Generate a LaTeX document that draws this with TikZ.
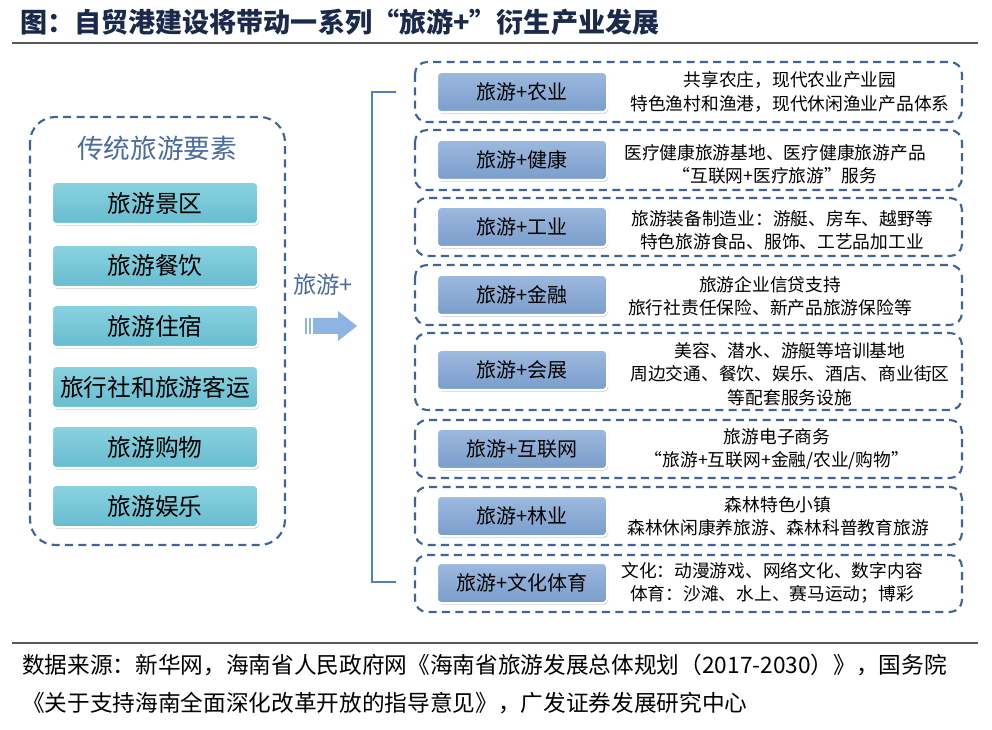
\documentclass[tikz,border=0pt]{standalone}
\usepackage{fontspec}
\newfontfamily\cjk{Noto Sans CJK SC}
\usetikzlibrary{shadows}
\definecolor{dashc}{HTML}{3F6497}
\definecolor{titlec}{HTML}{1B2A4A}
\definecolor{headc}{HTML}{4A6C9B}
\definecolor{tealtop}{HTML}{8AD2E0}
\definecolor{tealbot}{HTML}{66BCCF}
\definecolor{bluetop}{HTML}{9DB9DE}
\definecolor{bluebot}{HTML}{7A9DCB}
\definecolor{brackc}{HTML}{4F81BD}
\definecolor{arrowc}{HTML}{8DB4E2}
\tikzset{
  dbox/.style={draw=dashc, line width=1.6pt, dash pattern=on 6pt off 4pt, rounded corners=9pt},
  tealbox/.style={draw=white, line width=1.5pt, rounded corners=3pt, top color=tealtop, bottom color=tealbot,
    minimum width=154.5pt, minimum height=31.5pt, drop shadow={shadow xshift=0.8pt, shadow yshift=-1.2pt, opacity=0.4},
    font=\cjk\fontsize{17.8}{20}\selectfont, text=black},
  bluebox/.style={draw=white, line width=1.5pt, rounded corners=3pt, top color=bluetop, bottom color=bluebot,
    minimum width=127.5pt, minimum height=30pt, drop shadow={shadow xshift=0.8pt, shadow yshift=-1.2pt, opacity=0.4},
    font=\cjk\fontsize{15}{18}\selectfont, text=black},
  desc/.style={align=center, font=\cjk\fontsize{13.3}{17.5}\selectfont, text=black},
}
\begin{document}
\begin{tikzpicture}[x=0.75pt,y=-0.75pt]
\useasboundingbox (0,0) rectangle (992,730);
% title
\node[anchor=west, font=\cjk\bfseries\fontsize{20.3}{22}\selectfont, text=titlec, inner sep=0] (title) at (20,22) {图：自贸港建设将带动一系列“旅游+”衍生产业发展};
\draw[line width=1.6pt, draw=black!65] (12,43) -- (978,43);
% left group
\draw[dbox, rounded corners=19pt] (30,117) rectangle (285,545);
\node[font=\cjk\fontsize{20}{24}\selectfont, text=headc] (head) at (157,148) {传统旅游要素};
\node[tealbox] (l1) at (155,203) {旅游景区};
\node[tealbox] (l2) at (155,266) {旅游餐饮};
\node[tealbox] (l3) at (155,326) {旅游住宿};
\node[tealbox] (l4) at (155,387) {旅行社和旅游客运};
\node[tealbox] (l5) at (155,447) {旅游购物};
\node[tealbox] (l6) at (155,506) {旅游娱乐};
% middle
\node[font=\cjk\fontsize{17.5}{20}\selectfont, text=headc] (plus) at (323,285) {旅游+};
\fill[arrowc] (305,318) rectangle (307,334);
\fill[arrowc] (309,318) rectangle (311,334);
\fill[arrowc] (313,318) -- (338,318) -- (338,311) -- (357,326) -- (338,341) -- (338,334) -- (313,334) -- cycle;
\draw[brackc, line width=2pt] (396,92) -- (372,92) -- (372,582) -- (396,582);
% right rows
\draw[dbox] (415,62) rectangle (962,122);
\draw[dbox] (415,130) rectangle (962,190);
\draw[dbox] (415,198) rectangle (962,256);
\draw[dbox] (415,265) rectangle (962,325);
\draw[dbox] (415,333) rectangle (962,410);
\draw[dbox] (415,420) rectangle (962,478);
\draw[dbox] (415,487) rectangle (962,545);
\draw[dbox] (415,555) rectangle (962,612);
\node[bluebox] (r1) at (522,92) {旅游+农业};
\node[bluebox] (r2) at (522,160) {旅游+健康};
\node[bluebox] (r3) at (522,227) {旅游+工业};
\node[bluebox] (r4) at (522,295) {旅游+金融};
\node[bluebox] (r5) at (522,370) {旅游+会展};
\node[bluebox] (r6) at (522,449) {旅游+互联网};
\node[bluebox] (r7) at (522,516) {旅游+林业};
\node[bluebox] (r8) at (522,583) {旅游+文化体育};
\node[desc] (d1) at (790,92) {共享农庄，现代农业产业园\\特色渔村和渔港，现代休闲渔业产品体系};
\node[desc] (d2) at (775,164) {医疗健康旅游基地、医疗健康旅游产品\\“互联网+医疗旅游”服务};
\node[desc] (d3) at (782,230) {旅游装备制造业：游艇、房车、越野等\\特色旅游食品、服饰、工艺品加工业};
\node[desc] (d4) at (770,296) {旅游企业信贷支持\\旅行社责任保险、新产品旅游保险等};
\node[desc] (d5) at (790,374) {美容、潜水、游艇等培训基地\\周边交通、餐饮、娱乐、酒店、商业街区\\等配套服务设施};
\node[desc] (d6) at (777,449) {旅游电子商务\\“旅游+互联网+金融/农业/购物”};
\node[desc] (d7) at (778,516) {森林特色小镇\\森林休闲康养旅游、森林科普教育旅游};
\node[desc] (d8) at (772,583) {文化：动漫游戏、网络文化、数字内容\\体育：沙滩、水上、赛马运动；博彩};
% footer
\draw[line width=1.6pt, draw=black!65] (12,643) -- (978,643);
\node[anchor=west, font=\cjk\fontsize{17}{20}\selectfont, inner sep=0] (src1) at (22,665) {数据来源：新华网，海南省人民政府网《海南省旅游发展总体规划（2017-2030）》，国务院};
\node[anchor=west, font=\cjk\fontsize{17}{20}\selectfont, inner sep=0] (src2) at (22,703) {《关于支持海南全面深化改革开放的指导意见》，广发证券发展研究中心};
\end{tikzpicture}
\end{document}
